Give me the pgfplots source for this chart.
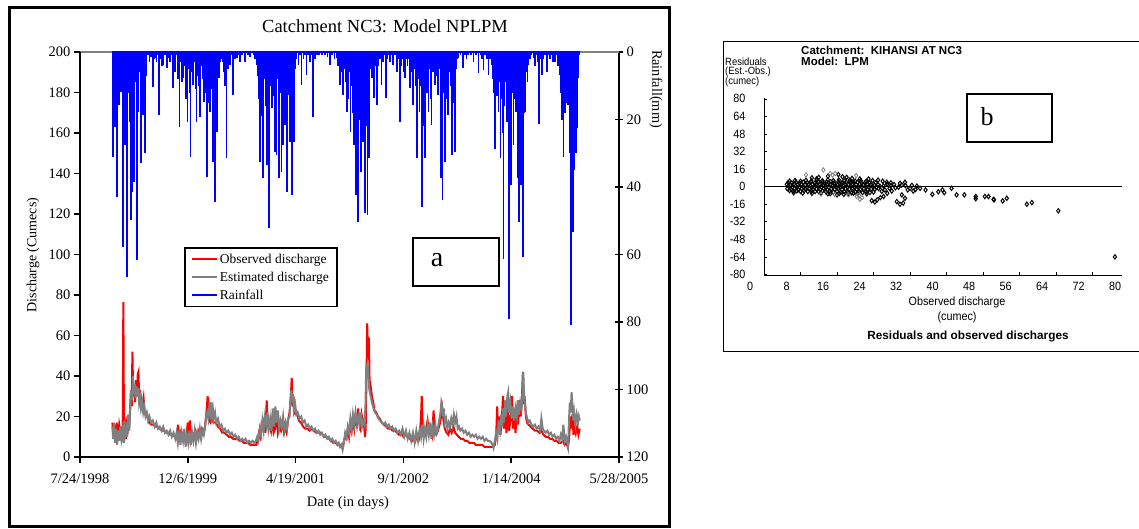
\documentclass[border=0pt]{standalone}
\usepackage{fontspec}
\setmainfont{Liberation Serif}
\newfontfamily\winsans[FakeStretch=0.9]{Liberation Sans}
\newfontfamily\winsansb{Liberation Sans}
\usepackage{pgfplots}
\pgfplotsset{compat=1.18}
\definecolor{estgray}{RGB}{128,128,128}
\newcommand{\fs}[1]{\fontsize{#1bp}{#1bp}\selectfont}

\begin{document}
\begin{tikzpicture}
\path[use as bounding box] (0,0) rectangle (1139bp,-529bp);

% ---------------- panel a ----------------
\draw[line width=3bp] (9bp,-7bp) rectangle (669bp,-526bp);

% rainfall, right axis (reversed)
\begin{axis}[
    at={(80bp,-457bp)}, anchor=south west,
    scale only axis, width=539bp, height=405bp,
    xmin=0, xmax=2500, ymin=0, ymax=120,
    y dir=reverse,
    axis x line=none, axis y line=right,
    axis line style={-, line width=1.5bp},
    ytick={0,20,...,120},
    yticklabels={0,20,40,60,80,100,120},
    tick align=center, major tick length=8bp,
    tick style={line width=1.5bp, black},
    yticklabel style={font=\fs{14.5}, anchor=west},
    clip=false,
]
\draw[estgray, line width=1.5bp] (axis cs:0,0) -- (axis cs:2500,0);
\addplot[ycomb, blue, line width=1.7bp] coordinates {
(152,31.0) (156,6) (162,22.1) (166,3) (170,42.9) (175,8) (182,15.7) (186,5)
(190,11.8) (194,2) (198,57.7) (203,9) (209,27.6) (213,4) (217,66.6) (222,12)
(229,20.7) (232,6) (235,49.8) (239,10) (243,41.4) (246,5) (250,38.4) (256,9)
(263,61.6) (266,14) (270,17.7) (276,6) (282,33.0) (286,8) (291,18.7) (296,4)
(301,30.0) (305,7) (309,2.4) (314,1) (322,3) (330,1.5) (337,10.3) (342,2)
(348,1.9) (355,3) (362,1) (368,18.7) (375,2) (380,4) (386,3.9) (394,1)
(402,4.8) (410,1.9) (418,3) (424,1) (430,10.8) (436,2) (442,6) (448,1)
(455,8) (461,22.1) (466,3) (472,9) (479,7.8) (485,4) (491,14) (498,20.7)
(503,5) (508,12) (513,31.0) (518,6) (525,9.8) (531,3) (536,11) (541,20.7)
(546,7) (552,10) (557,19.2) (562,4) (568,8) (575,14.7) (581,6) (586,12)
(590,36.9) (595,9) (599,15) (603,17.7) (608,5) (613,11) (618,32.5) (622,14)
(626,44.4) (630,9) (634,23.6) (639,4) (645,7.8) (652,3) (657,2) (662,2.9)
(668,6) (674,10) (680,31.5) (686,5) (691,2) (696,3.9) (703,1) (711,12.7)
(718,2) (727,1.9) (735,1) (742,2.9) (752,1) (765,2.9) (778,1) (790,1.5)
(805,1) (812,2) (820,3.9) (826,7) (830,14) (835,32.5) (840,11) (845,19)
(850,37.4) (855,8) (861,16) (866,33.5) (871,12) (878,52.2) (883,10) (889,16.7)
(894,6) (899,13) (904,29.5) (908,9) (912,30.5) (918,8) (924,37.4) (930,12)
(935,35.5) (940,14) (943,27.6) (947,6) (951,21.6) (955,10) (959,41.4) (962,18)
(966,12.7) (970,8) (974,26.6) (978,9) (982,42.4) (987,11) (993,26.6) (998,5)
(1004,2) (1013,3.9) (1020,1) (1028,9.8) (1036,2) (1042,1) (1051,6.8) (1058,1)
(1067,2.9) (1074,1) (1082,19.2) (1090,2) (1098,1) (1110,1.0) (1122,0.8) (1136,1.0)
(1148,1.5) (1160,3.9) (1170,1) (1180,2) (1190,1.9) (1198,4) (1206,9.8) (1212,3)
(1216,6) (1221,12.8) (1227,5) (1232,9) (1237,17.7) (1242,7) (1246,14) (1250,6)
(1255,23.6) (1260,10) (1265,18) (1271,27.6) (1275,12) (1280,42.4) (1286,16) (1291,50.3)
(1296,20) (1303,35.5) (1308,14) (1314,26.6) (1318,9) (1323,47.8) (1328,22) (1333,48.3)
(1337,15) (1342,31.5) (1347,5) (1353,7.8) (1358,3) (1364,13.7) (1370,4) (1375,2)
(1379,15.7) (1385,4) (1391,2) (1399,9.8) (1405,3) (1412,1) (1419,13.7) (1426,2)
(1432,1) (1438,2.9) (1446,1) (1453,3.9) (1460,1) (1469,5.8) (1476,2) (1484,20.7)
(1490,4) (1496,2) (1501,6) (1507,7.8) (1513,2) (1519,4) (1525,2) (1531,10.8)
(1537,3) (1541,6) (1546,15.7) (1551,5) (1556,10) (1562,31.5) (1568,8) (1574,17.7)
(1579,10) (1585,45.8) (1590,14) (1595,22) (1600,31.5) (1606,9) (1611,12) (1616,17.7)
(1621,5) (1626,14) (1631,21.6) (1636,6) (1641,3) (1646,9.8) (1652,4) (1657,7)
(1662,12.8) (1667,5) (1673,37.4) (1677,20) (1682,43.9) (1687,12) (1693,32.5) (1698,8)
(1703,14) (1708,18.7) (1713,6) (1718,10) (1724,30.5) (1729,8) (1734,15) (1740,29.5)
(1745,5) (1750,2) (1755,1.9) (1765,1) (1775,4.8) (1785,1) (1793,2) (1801,1.0)
(1812,1) (1825,2.9) (1836,1) (1848,6.3) (1858,1) (1864,2) (1871,5.3) (1880,1)
(1888,2) (1894,6.8) (1902,2) (1910,3.9) (1915,8) (1920,12) (1925,28.6) (1930,7)
(1935,13) (1941,17.7) (1946,9) (1951,31.5) (1956,14) (1960,24) (1964,61.2) (1969,16)
(1974,9) (1979,20.7) (1984,12) (1990,79.0) (1994,22) (1998,39.4) (2003,12) (2010,27.6)
(2014,9) (2018,14) (2022,17.7) (2026,8) (2029,37.4) (2032,16) (2036,50.3) (2040,20)
(2044,39.4) (2048,14) (2051,25) (2055,60.7) (2059,18) (2064,17.7) (2070,6) (2075,9)
(2080,3.9) (2087,2) (2094,1) (2103,1.9) (2110,4) (2117,1) (2123,3) (2129,21.2)
(2135,2) (2142,6.8) (2150,2) (2158,1) (2165,5.8) (2172,1) (2180,2) (2188,1)
(2195,3) (2203,2.9) (2210,1) (2217,4) (2222,2) (2227,6.8) (2232,12) (2237,20)
(2242,31.0) (2246,9) (2250,18) (2254,15.2) (2258,6) (2262,12) (2265,15.7) (2270,24)
(2274,30) (2278,80.9) (2281,45) (2285,53.3) (2290,35) (2296,27.6) (2300,30) (2304,22.6)
(2308,12) (2312,7.8) (2316,1.0)
};
\addplot[blue, line width=1.6bp] coordinates {(150,0) (2318,0)};
\end{axis}

% discharge, left axis
\begin{axis}[
    at={(80bp,-457bp)}, anchor=south west,
    scale only axis, width=539bp, height=405bp,
    xmin=0, xmax=2500, ymin=0, ymax=200,
    axis x line=bottom, axis y line=left,
    axis line style={-, line width=1.5bp},
    xtick={0,500,...,2500},
    xticklabels={7/24/1998,12/6/1999,4/19/2001,9/1/2002,1/14/2004,5/28/2005},
    ytick={0,20,...,200},
    yticklabels={0,20,40,60,80,100,120,140,160,180,200},
    tick align=outside, major tick length=6bp,
    tick style={line width=1.5bp, black},
    xticklabel style={font=\fs{14.5}, yshift=-7bp},
    yticklabel style={font=\fs{14.5}},
    legend style={at={(0.193,0.5185)}, anchor=north west, draw=black,
        line width=1.8bp, font=\fs{13.5}, row sep=3bp,
        inner xsep=6bp, inner ysep=4bp, fill=white},
    legend cell align=left,
    legend image code/.code={\draw[#1, line width=2bp] (0bp,0bp) -- (25bp,0bp);},
    clip=false,
]
\addplot[red, line width=2bp] coordinates {
(150,17) (155,11) (160,16) (166,9) (170,17) (176,10) (182,16) (188,12) (194,14) (198,12)
(201,76.5) (204,13) (210,16) (214,9) (220,20) (226,15) (230,18) (236,33) (240,25) (243,52)
(247,30) (251,35) (255,27) (260,38) (264,30) (268,41) (271,42) (275,28) (279,33) (284,27)
(290,25) (295,29) (300,22) (306,20) (312,21) (320,17) (330,16) (340,16) (350,15) (360,15)
(370,14) (380,13) (390,13) (400,12) (410,12) (420,11) (430,11) (440,10) (448,9) (455,16)
(460,10) (466,12) (472,9) (480,11) (488,8) (495,12) (500,17) (505,11) (510,18) (515,9)
(520,12) (528,10) (535,13) (542,11) (550,13) (558,10) (566,14) (575,12) (582,17) (588,24)
(592,30) (596,26) (600,18) (606,17) (612,19) (620,17) (630,17) (640,15) (650,14) (660,12)
(670,12) (680,11) (690,10) (700,10) (710,9) (720,9) (730,9) (740,8) (750,8) (760,7)
(770,7) (780,7) (790,6) (800,6) (810,6) (818,6) (825,9) (830,12) (836,10) (842,16)
(848,14) (854,18) (860,12) (866,28) (869,19) (874,14) (880,16) (886,13) (892,20) (898,12)
(905,14) (912,22) (918,12) (925,15) (932,13) (940,17) (946,12) (952,14) (958,12) (965,18)
(972,22) (978,30) (982,39) (986,25) (990,30) (994,22) (1000,21) (1008,21) (1015,18) (1025,17)
(1035,15) (1045,14) (1055,14) (1065,13) (1075,14) (1085,13) (1095,12) (1105,12) (1115,12) (1125,11)
(1135,10) (1145,10) (1155,9) (1165,8) (1175,7) (1185,7) (1195,6) (1205,6) (1212,5) (1218,5)
(1224,8) (1230,10) (1236,9) (1242,14) (1248,10) (1254,16) (1260,13) (1266,19) (1272,14) (1278,20)
(1284,16) (1290,24) (1295,18) (1300,15) (1306,21) (1312,17) (1318,15) (1322,10) (1325,14) (1329,40)
(1332,66) (1336,50) (1340,59) (1343,38) (1348,35) (1354,30) (1360,27) (1366,23) (1374,22) (1382,20)
(1390,19) (1400,17) (1410,16) (1420,15) (1430,14) (1440,14) (1450,13) (1460,13) (1470,12) (1480,11)
(1490,12) (1500,10) (1510,11) (1520,10) (1530,9) (1540,8) (1548,10) (1556,8) (1564,11) (1572,9)
(1580,14) (1585,30) (1590,14) (1596,12) (1604,13) (1612,18) (1618,12) (1626,15) (1634,11) (1640,23)
(1645,12) (1652,11) (1660,13) (1668,16) (1675,20) (1680,24) (1686,18) (1692,14) (1700,12) (1708,11)
(1716,14) (1724,12) (1732,15) (1740,12) (1748,11) (1756,10) (1766,9) (1776,9) (1786,8) (1796,8)
(1806,7) (1816,7) (1826,7) (1836,6) (1846,6) (1856,6) (1866,6) (1876,5) (1886,5) (1896,5)
(1906,5) (1916,5) (1924,6) (1930,10) (1935,25) (1939,12) (1944,20) (1950,11) (1956,18) (1962,30)
(1966,14) (1972,22) (1978,12) (1984,25) (1990,13) (1996,18) (2004,30) (2008,14) (2014,20) (2020,12)
(2026,22) (2032,16) (2038,28) (2044,20) (2050,30) (2054,42) (2058,26) (2062,30) (2068,20) (2074,17)
(2080,16) (2090,15) (2100,14) (2110,13) (2120,13) (2130,12) (2140,13) (2150,11) (2160,10) (2170,10)
(2180,9) (2190,9) (2200,8) (2210,8) (2220,7) (2230,7) (2240,8) (2248,6) (2256,7) (2262,5)
(2268,8) (2274,20) (2279,14) (2284,21) (2289,11) (2294,16) (2300,12) (2306,15) (2312,11) (2318,14)
};
\addlegendentry{Observed discharge}
\addplot[estgray, line width=2bp] coordinates {
(150,15) (154,9) (158,17) (163,7) (168,14) (172,6) (177,13) (182,8) (187,15) (192,9)
(197,13) (202,7) (206,18) (210,11) (215,14) (219,10) (224,21) (229,13) (234,26) (238,33)
(242,28) (246,40) (250,31) (254,36) (258,29) (262,35) (266,30) (270,34) (274,27) (278,30)
(283,24) (288,27) (293,22) (298,25) (304,20) (310,22) (316,18) (322,20) (330,17) (338,18)
(346,15) (354,17) (362,14) (370,15) (378,13) (386,15) (394,12) (402,13) (410,11) (418,13)
(426,10) (434,12) (442,9) (448,12) (454,7) (460,13) (466,6) (472,12) (478,8) (484,14)
(490,5) (496,11) (502,7) (508,13) (514,6) (520,12) (526,8) (532,13) (538,7) (544,12)
(550,9) (556,14) (562,9) (568,13) (574,11) (580,15) (585,20) (590,22) (595,19) (600,25)
(604,22) (608,27) (612,21) (616,24) (620,19) (626,22) (632,17) (640,19) (648,15) (656,16)
(664,13) (672,14) (680,12) (688,13) (696,11) (704,12) (712,10) (720,11) (728,9) (736,10)
(744,8) (752,9) (760,8) (768,9) (776,7) (784,8) (792,7) (800,8) (808,7) (816,8)
(822,10) (828,8) (834,14) (840,11) (846,18) (852,13) (858,20) (864,16) (870,22) (876,14)
(882,19) (888,13) (894,24) (900,15) (906,25) (912,17) (918,23) (924,14) (930,18) (936,15)
(942,20) (948,13) (954,17) (960,14) (966,19) (972,20) (976,28) (980,33) (984,27) (988,31)
(992,23) (998,26) (1004,21) (1010,22) (1018,19) (1026,20) (1034,17) (1042,18) (1050,15) (1058,16)
(1066,14) (1074,15) (1082,13) (1090,14) (1098,12) (1106,13) (1114,11) (1122,12) (1130,10) (1138,11)
(1146,9) (1154,10) (1162,8) (1170,9) (1178,7) (1186,8) (1194,6) (1200,7) (1206,5) (1212,6)
(1218,3.5) (1224,7) (1230,12) (1236,10) (1242,15) (1248,12) (1254,19) (1260,14) (1266,21) (1272,16)
(1278,22) (1284,17) (1290,20) (1296,16) (1302,22) (1308,15) (1314,18) (1320,16) (1324,25) (1328,46)
(1332,40) (1336,45) (1340,35) (1344,32) (1350,29) (1356,26) (1362,24) (1368,22) (1376,21) (1384,19)
(1392,18) (1400,17) (1408,16) (1416,17) (1424,15) (1432,16) (1440,14) (1448,15) (1456,13) (1464,14)
(1472,12) (1480,13) (1488,11) (1496,14) (1504,10) (1512,13) (1520,9) (1528,12) (1536,8) (1544,12)
(1552,7) (1560,13) (1568,8) (1576,14) (1582,10) (1588,16) (1594,9) (1600,14) (1606,10) (1612,16)
(1618,11) (1624,17) (1630,9) (1636,15) (1642,11) (1648,16) (1654,12) (1660,14) (1666,18) (1672,22)
(1676,27) (1680,25) (1684,20) (1688,24) (1692,17) (1698,19) (1704,14) (1710,17) (1716,15) (1722,19)
(1728,16) (1734,21) (1740,17) (1746,20) (1752,14) (1758,15) (1764,13) (1772,14) (1780,12) (1788,13)
(1796,11) (1804,12) (1812,10) (1820,11) (1828,10) (1836,11) (1844,9) (1852,10) (1860,9) (1868,10)
(1876,8) (1884,9) (1892,8) (1900,8) (1908,7) (1914,6) (1918,4.5) (1924,8) (1930,12) (1936,9)
(1942,18) (1948,13) (1954,21) (1958,15) (1962,24) (1966,17) (1972,28) (1976,20) (1982,30) (1986,32)
(1990,22) (1996,27) (2002,19) (2008,25) (2014,18) (2020,24) (2026,20) (2030,28) (2036,21) (2042,27)
(2048,24) (2052,30) (2056,42) (2060,30) (2064,26) (2068,22) (2074,19) (2080,17) (2086,18) (2094,16)
(2102,15) (2110,16) (2118,14) (2126,15) (2134,13) (2140,19) (2146,14) (2152,13) (2160,12) (2168,13)
(2176,11) (2184,12) (2192,10) (2200,11) (2208,9) (2216,10) (2224,8) (2230,11) (2236,9) (2242,16)
(2248,8) (2254,10) (2260,7) (2264,5) (2268,18) (2272,27) (2276,22) (2280,32) (2284,26) (2288,18)
(2292,22) (2298,16) (2304,21) (2310,17) (2314,20) (2318,18)
};
\addlegendentry{Estimated discharge}
\addlegendimage{blue, line width=2bp}
\addlegendentry{Rainfall}
\end{axis}

\node[font=\fs{18.5}] at (385bp,-26bp) {Catchment NC3: Model NPLPM};
\node[font=\fs{14.5}] at (348bp,-503bp) {Date (in days)};
\node[font=\fs{14}, rotate=90] at (33bp,-255bp) {Discharge (Cumecs)};
\node[font=\fs{14.3}, rotate=-90] at (656bp,-89bp) {Rainfall(mm)};
\draw[line width=1.8bp] (413bp,-238bp) rectangle (499bp,-286bp);
\node[font=\fs{28}] at (437bp,-260bp) {a};

% ---------------- panel b ----------------
\draw[line width=1bp] (1139bp,-41bp) -- (723bp,-41bp) -- (723bp,-351bp) -- (1139bp,-351bp);

\begin{axis}[
    at={(764bp,-275bp)}, anchor=south west,
    scale only axis, width=358.2bp, height=176.7bp,
    xmin=0, xmax=78.5, ymin=-80.5, ymax=80.5,
    axis x line=bottom, axis y line=left,
    axis line style={-, line width=0.8bp},
    xtick={0,8,...,72},
    xticklabels={0,8,16,24,32,40,48,56,64,72},
    ytick={-80,-64,...,80},
    yticklabels={-80,-64,-48,-32,-16,0,16,32,48,64,80},
    tick align=inside, major tick length=3bp,
    tick style={line width=0.6bp, black},
    xticklabel style={font=\winsans\fs{12}, xshift=-14bp, yshift=-4bp},
    yticklabel style={font=\winsans\fs{12}, xshift=-15bp},
    clip=false,
]
\addplot[black, line width=0.8bp] coordinates {(0,0) (78.5,0)};
\addplot[only marks, mark=diamond, mark size=2.2bp, black, line width=1bp] coordinates {
(5.6,5.0) (6.8,5.6) (8.0,4.9) (9.2,5.8) (10.4,5.2) (11.6,6.0) (12.8,5.4) (14.0,6.2) (15.2,5.5) (16.4,6.1)
(17.6,5.3) (18.8,5.9) (20.0,5.0) (21.2,5.6) (22.4,4.8)
(5.3,3.7) (6.1,3.2) (7.0,4.0) (7.8,3.4) (8.6,4.1) (9.5,3.6) (10.3,4.3) (11.2,3.5) (12.0,4.4) (12.9,3.8)
(13.7,4.2) (14.6,4.6) (15.4,3.7) (16.3,4.3) (17.1,3.6) (18.0,4.1) (18.8,4.5) (19.7,3.6) (20.5,4.0) (21.4,3.4)
(22.2,3.9) (23.1,3.3)
(5.0,2.1) (5.8,1.6) (6.6,2.5) (7.4,1.8) (8.2,2.3) (9.0,1.5) (9.8,2.3) (10.6,2.0) (11.4,1.9) (12.2,2.4)
(13.0,1.4) (13.8,2.2) (14.6,2.0) (15.4,2.6) (16.2,1.7) (17.0,2.2) (17.8,2.5) (18.6,1.6) (19.4,2.5) (20.2,1.9)
(21.0,2.4) (21.8,1.3) (22.6,2.2) (23.4,2.0) (24.2,1.5) (25.0,1.8)
(5.4,0.3) (6.2,-0.4) (7.0,0.6) (7.8,-0.2) (8.6,0.1) (9.4,-0.5) (10.2,0.4) (11.0,-0.1) (11.8,0.7) (12.6,-0.3)
(13.4,0.2) (14.2,-0.6) (15.0,0.5) (15.8,0.0) (16.6,-0.4) (17.4,0.3) (18.2,-0.2) (19.0,0.6) (19.8,-0.5) (20.6,0.1)
(21.4,-0.3) (22.2,0.4) (23.0,-0.1) (23.8,0.2) (24.6,-0.6) (25.4,0.3)
(5.1,-1.8) (5.9,-2.3) (6.7,-1.5) (7.5,-2.6) (8.3,-1.9) (9.1,-2.2) (9.9,-1.6) (10.7,-2.8) (11.5,-2.0) (12.3,-2.4)
(13.1,-1.7) (13.9,-2.9) (14.7,-2.1) (15.5,-2.5) (16.3,-1.6) (17.1,-2.7) (17.9,-2.0) (18.7,-2.3) (19.5,-1.8) (20.3,-2.6)
(21.1,-2.2) (21.9,-1.9) (22.7,-2.8) (23.5,-2.1) (24.3,-2.4) (25.1,-1.7)
(5.6,-3.6) (6.4,-4.1) (7.2,-3.8) (8.0,-4.3) (8.8,-3.7) (9.6,-4.5) (10.4,-4.0) (11.2,-4.4) (12.0,-4.6) (12.8,-3.9)
(13.6,-4.8) (14.4,-4.3) (15.2,-5.0) (16.0,-4.4) (16.8,-5.2) (17.6,-4.6) (18.4,-5.1) (19.2,-5.6) (20.0,-4.7) (20.8,-5.0)
(21.6,-5.4) (22.4,-4.7) (23.2,-5.3) (24.0,-4.9)
(6.5,-5.6) (8.5,-5.9) (10.5,-6.1) (12.5,-5.8) (14.5,-6.4) (16.5,-6.2) (18.5,-6.8) (20.5,-6.3) (22.5,-6.6)
(11.5,7) (12,8.5) (10.5,8) (17.2,9) (18.1,8.5) (16.3,11) (21,7) (22.9,7) (25,6) (26.9,4)
(29.8,3) (30.9,4) (14,9.5) (19.3,7.5) (23.8,5.5) (26,5) (27.8,3.5) (28.5,2) (24.5,3.5)
(14,-6.5) (16,-7.5) (17.5,-7) (19.6,-6) (23.6,-12.8) (24.3,-14) (24.8,-12) (25.5,-10) (26.2,-9) (27,-6)
(28,-4) (29.1,-13.6) (29.8,-16) (30.5,-15) (30.9,-10.6) (30.2,-7.5)
(31.5,-3) (32.7,-4) (32,-1.5) (33.2,-2.6) (27.5,-1.5) (26.5,-3) (28.8,-1) (31,1) (33.5,0.5) (26.2,0.5)
(27,2.2) (29.5,-0.5) (25.8,-4.2) (27.8,0.8) (30.2,1.5) (32.4,1.2)
(34.2,-1.5) (35.4,-3) (36.9,-7) (38.2,-4.7) (39.1,-3) (39.5,-5.5) (41.1,-1.5) (42.2,-7.5) (43.9,-7.5) (46.4,-9)
(46.4,-11) (48.4,-9) (49.2,-9) (50.3,-11.6) (50.4,-12) (52.3,-13) (53.2,-10.6) (57.6,-16) (58.7,-14.5) (64.5,-22)
(76.9,-64)
};
\addplot[only marks, mark=diamond, mark size=2.2bp, estgray, line width=0.8bp] coordinates {
(9.2,10.7) (13.0,15.2) (14.5,12) (15.6,12) (15.0,10.5) (20.2,10) (18.5,-7.5) (20.3,-9) (21,-11.6) (21.5,-10)
(20.8,-8) (12.5,-6.8) (15.5,-7.2)
};
\node[font=\winsans\fs{12}, anchor=north, xshift=-14bp, yshift=-4bp] at (axis cs:80,-80.5) {80};
\end{axis}

\node[anchor=base west, inner sep=0pt, font=\winsansb\bfseries\fs{11.5}] at (801bp,-54bp) {Catchment:\ \ KIHANSI AT NC3};
\node[anchor=base west, inner sep=0pt, font=\winsansb\bfseries\fs{11.5}] at (801bp,-65bp) {Model:\ \ LPM};
\node[anchor=base west, font=\winsans\fs{10.5}, inner sep=0pt] at (725bp,-65bp) {Residuals};
\node[anchor=base west, font=\winsans\fs{10.5}, inner sep=0pt] at (725bp,-74.5bp) {(Est.-Obs.)};
\node[anchor=base west, font=\winsans\fs{10.5}, inner sep=0pt] at (725bp,-84bp) {(cumec)};
\node[font=\winsans\fs{12}] at (957bp,-302bp) {Observed discharge};
\node[font=\winsans\fs{12}] at (957bp,-317bp) {(cumec)};
\node[font=\winsansb\bfseries\fs{11.8}] at (968bp,-336bp) {Residuals and observed discharges};
\draw[line width=1.2bp] (967bp,-94bp) rectangle (1052bp,-142bp);
\node[font=\fs{26}] at (987bp,-117bp) {b};
\end{tikzpicture}
\end{document}
